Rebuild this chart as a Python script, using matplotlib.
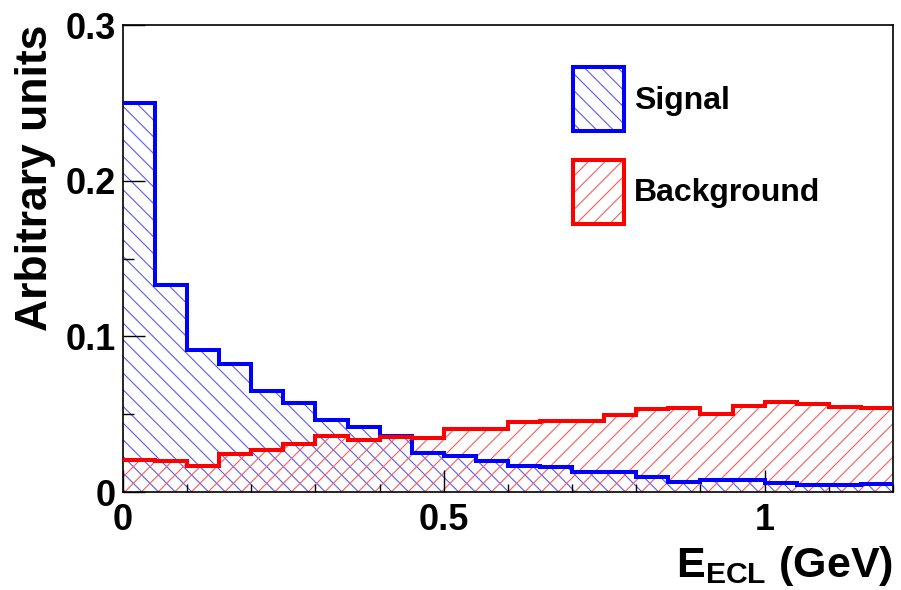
import numpy as np
import matplotlib
matplotlib.use("Agg")
import matplotlib.pyplot as plt
from matplotlib.patches import Patch
from matplotlib.legend_handler import HandlerTuple
from matplotlib.ticker import MultipleLocator, FormatStrFormatter

# ROOT-like look: bold Arial-ish font everywhere
plt.rcParams["font.family"] = ["Liberation Sans", "DejaVu Sans"]
plt.rcParams["font.weight"] = "bold"
plt.rcParams["axes.labelweight"] = "bold"
plt.rcParams["mathtext.fontset"] = "custom"
plt.rcParams["mathtext.rm"] = "Liberation Sans:bold"
plt.rcParams["mathtext.bf"] = "Liberation Sans:bold"
plt.rcParams["mathtext.it"] = "Liberation Sans:bold"
plt.rcParams["hatch.linewidth"] = 0.8

# ---- data ----
# 24 bins of 0.05 GeV from 0 to 1.2
bin_edges = np.linspace(0.0, 1.2, 25)

signal = [0.250, 0.133, 0.091, 0.082, 0.065, 0.057, 0.046, 0.042,
          0.0358, 0.025, 0.023, 0.020, 0.017, 0.016, 0.013, 0.0126,
          0.0094, 0.0066, 0.0077, 0.0077, 0.0060, 0.0045, 0.0048, 0.0050]

background = [0.0204, 0.0200, 0.0170, 0.0243, 0.0269, 0.0307, 0.0362, 0.0332,
              0.0355, 0.0347, 0.0406, 0.0402, 0.0447, 0.0453, 0.0459, 0.0496,
              0.0534, 0.0540, 0.0502, 0.0553, 0.0576, 0.0566, 0.0549, 0.0538]

labels = ["Signal", "Background"]

# ---- plot ----
fig = plt.figure(figsize=(9.01, 5.90), dpi=100)
ax = fig.add_axes([0.1365, 0.1661, 0.8546, 0.7915])

sig_col, sig_hatch = "blue", "#5a5aff"
bkg_col, bkg_hatch = "red", "#ff5a5a"

# hatched areas
ax.stairs(signal, bin_edges, fill=True, facecolor="none", edgecolor=sig_hatch,
          hatch="\\\\", linewidth=0)
ax.stairs(background, bin_edges, fill=True, facecolor="none", edgecolor=bkg_hatch,
          hatch="//", linewidth=0)

# outlines on top
ax.stairs(signal, bin_edges, baseline=None, color=sig_col, linewidth=2.9, zorder=3)
ax.stairs(background, bin_edges, baseline=None, color=bkg_col, linewidth=2.9, zorder=3)

ax.set_xlim(0, 1.2)
ax.set_ylim(0, 0.3)

ax.xaxis.set_major_locator(MultipleLocator(0.5))
ax.xaxis.set_minor_locator(MultipleLocator(0.1))
ax.yaxis.set_major_locator(MultipleLocator(0.1))
ax.yaxis.set_minor_locator(MultipleLocator(0.05))
ax.xaxis.set_major_formatter(FormatStrFormatter("%g"))
ax.yaxis.set_major_formatter(FormatStrFormatter("%g"))

ax.tick_params(which="both", direction="in", top=False, right=False, width=1)
ax.tick_params(axis="y", which="major", length=16, pad=5, labelsize=26)
ax.tick_params(axis="y", which="minor", length=8)
ax.tick_params(axis="x", which="major", length=16, pad=8, labelsize=26)
ax.tick_params(axis="x", which="minor", length=6)
for s in ax.spines.values():
    s.set_linewidth(1.2)

ax.set_ylabel("Arbitrary units", fontsize=32, fontweight="bold", loc="top", labelpad=7)
ax.set_xlabel(r"$\mathbf{E}_{\mathbf{ECL}}$ (GeV)", fontsize=31, fontweight="bold",
              loc="right", labelpad=4)

# legend: light hatch + strong outline in one box
h_sig = (Patch(facecolor="none", edgecolor=sig_hatch, hatch="\\\\", linewidth=0),
         Patch(facecolor="none", edgecolor=sig_col, linewidth=2.9))
h_bkg = (Patch(facecolor="none", edgecolor=bkg_hatch, hatch="//", linewidth=0),
         Patch(facecolor="none", edgecolor=bkg_col, linewidth=2.9))
ax.legend([h_sig, h_bkg], labels, handler_map={tuple: HandlerTuple(ndivide=1, pad=0)},
          loc="upper left", bbox_to_anchor=(573 / 901, 1 - 67 / 590),
          bbox_transform=fig.transFigure, frameon=False, borderpad=0,
          borderaxespad=0, handlelength=1.6, handleheight=2.7,
          handletextpad=0.3, labelspacing=0.9,
          prop={"size": 23, "weight": "bold"})

fig.savefig("out.png", dpi=100)
